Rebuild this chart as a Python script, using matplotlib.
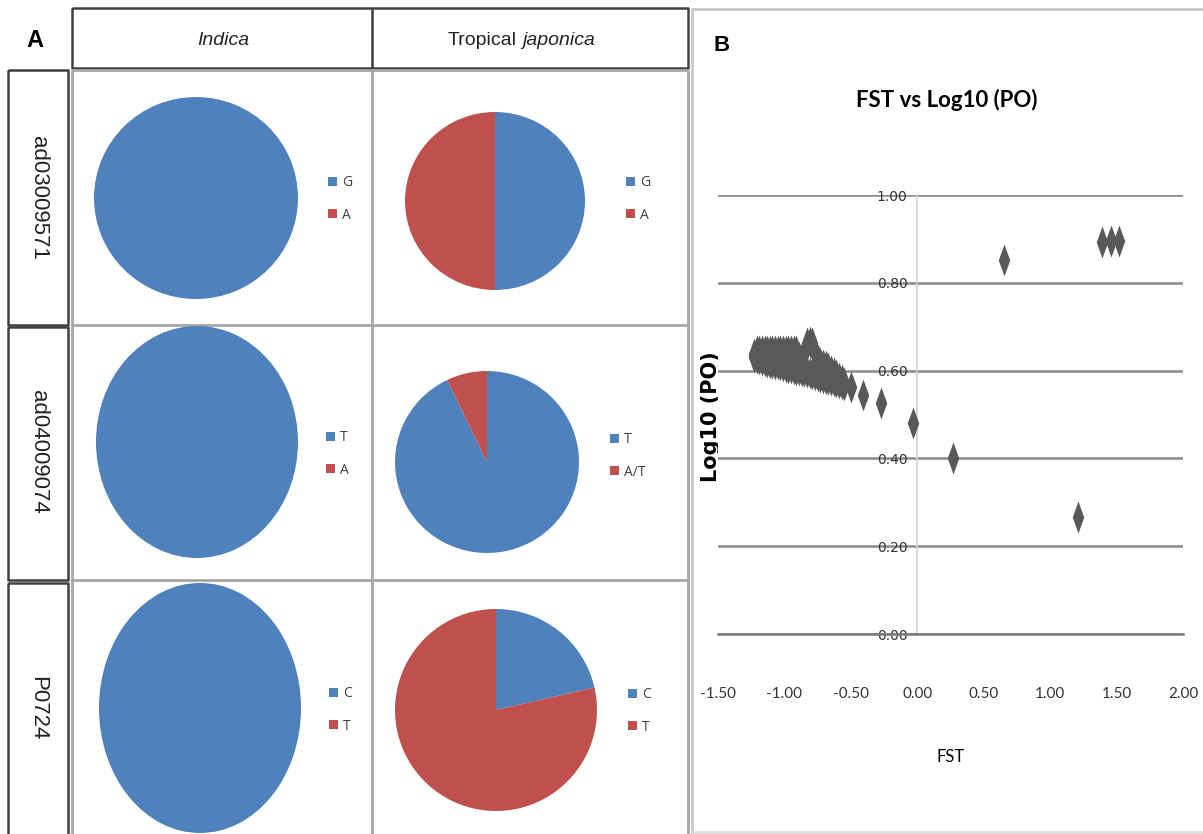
import matplotlib
matplotlib.use('Agg')
import matplotlib.pyplot as plt
from matplotlib.path import Path

# ---- data: panel A (allele frequencies) ----
marker_names = ['ad03009571', 'ad04009074', 'P0724']
indica_labels = [['G', 'A'], ['T', 'A'], ['C', 'T']]
indica_values = [[1, 0], [1, 0], [1, 0]]
tropical_labels = [['G', 'A'], ['T', 'A/T'], ['C', 'T']]
tropical_values = [[1, 1], [13, 1], [3, 11]]

# ---- data: panel B (FST vs Log10(PO)) ----
# dense group of markers, upper and lower edge of the band
cluster_fst = [-1.23, -1.21, -1.19, -1.17, -1.15, -1.13, -1.11, -1.09, -1.07, -1.05,
               -1.03, -1.01, -0.99, -0.97, -0.95, -0.93, -0.91, -0.89, -0.87, -0.85,
               -0.83, -0.81, -0.79, -0.77, -0.75, -0.73, -0.71, -0.69, -0.67, -0.65,
               -0.63, -0.61, -0.59, -0.57, -0.55]
cluster_top = [0.638, 0.645, 0.645, 0.645, 0.645, 0.645, 0.645, 0.645, 0.645, 0.645,
               0.645, 0.645, 0.645, 0.645, 0.645, 0.645, 0.645, 0.630, 0.628, 0.640,
               0.663, 0.665, 0.663, 0.640, 0.625, 0.617, 0.613, 0.610, 0.605, 0.600,
               0.595, 0.590, 0.584, 0.578, 0.572]
cluster_bottom = [0.630, 0.628, 0.626, 0.624, 0.622, 0.620, 0.618, 0.617, 0.615, 0.614,
                  0.612, 0.610, 0.609, 0.607, 0.606, 0.604, 0.602, 0.601, 0.599, 0.598,
                  0.596, 0.594, 0.592, 0.590, 0.588, 0.586, 0.584, 0.582, 0.580, 0.578,
                  0.576, 0.574, 0.572, 0.570, 0.568]
# separate markers
single_fst = [-0.50, -0.41, -0.27, -0.03, 0.27, 0.655, 1.21, 1.39, 1.46, 1.52]
single_log = [0.563, 0.544, 0.526, 0.480, 0.401, 0.852, 0.266, 0.893, 0.895, 0.895]

x_ticks = [-1.5, -1.0, -0.5, 0.0, 0.5, 1.0, 1.5, 2.0]
x_ticklabels = ['-1.50', '-1.00', '-0.50', '0.00', '0.50', '1.00', '1.50', '2.00']
y_ticks = [0.0, 0.2, 0.4, 0.6, 0.8, 1.0]
y_ticklabels = ['0.00', '0.20', '0.40', '0.60', '0.80', '1.00']

W, H = 1203, 834
BLUE = '#4F81BD'
RED = '#C0504D'
DARK = '#3f3f3f'
GRID = '#a6a6a6'
SANS = ['Liberation Sans', 'DejaVu Sans']
NARROW = ['Lato', 'DejaVu Sans']


def box(x0, y0, x1, y1):
    return [x0 / W, 1 - y1 / H, (x1 - x0) / W, (y1 - y0) / H]


fig = plt.figure(figsize=(W / 100, H / 100), dpi=100)
bg = fig.add_axes([0, 0, 1, 1])
bg.set_xlim(0, W)
bg.set_ylim(H, 0)
bg.axis('off')


def line(xs, ys, c, lw):
    bg.plot(xs, ys, color=c, lw=lw, solid_capstyle='butt')


def rect(x0, y0, x1, y1, c, lw):
    line([x0, x1, x1, x0, x0], [y0, y0, y1, y1, y0], c, lw)


# table frame of panel A
rect(72, 8, 688, 68, DARK, 1.8)
line([372, 372], [8, 68], DARK, 1.8)
for y0, y1 in [(70, 325), (327, 580), (583, 836)]:
    rect(8, y0, 68, y1, DARK, 1.8)
for x in [72, 372, 688]:
    line([x, x], [70, 834], GRID, 2)
for y in [70, 325, 580]:
    line([72, 688], [y, y], GRID, 2)
# frame of panel B
line([692, 692], [8, 834], '#c8c8c8', 2)
line([692, 1203], [9, 9], '#c8c8c8', 2)
line([692, 1203], [832, 832], '#dddddd', 2)

bg.text(35, 40, 'A', fontsize=17, fontweight='bold', ha='center', va='center',
        family=SANS)
bg.text(722, 45, 'B', fontsize=16, fontweight='bold', ha='center', va='center',
        family=SANS)

bg.text(223, 40, 'Indica', fontsize=14, style='italic', ha='center', va='center',
        family=SANS, color='#222222')
bg.text(517, 40, 'Tropical', fontsize=14, ha='right', va='center',
        family=SANS, color='#222222')
bg.text(522, 40, 'japonica', fontsize=14, style='italic', ha='left', va='center',
        family=SANS, color='#222222')

for name, yc in zip(marker_names, [198, 452, 708]):
    bg.text(38, yc, name, fontsize=16, rotation=-90, ha='center', va='center',
            family=SANS, color='#222222')

# pie cells: (center x, center y, rx, ry), legend square x, legend mid y
indica_geo = [((196, 198, 102, 101), 333, 199),
              ((197, 442, 101, 116), 331, 454),
              ((200, 708, 101, 125), 334, 710)]
tropical_geo = [((495, 201, 90, 89), 631, 199),
                ((487, 462, 92, 91), 615, 456),
                ((496, 710, 101, 101), 633, 711)]


def draw_pie(values, labels, geo):
    (cx, cy, rx, ry), lx, ly = geo
    ax = fig.add_axes(box(cx - rx, cy - ry, cx + rx, cy + ry))
    wedges, _ = ax.pie(values, colors=[BLUE, RED], startangle=90,
                       counterclock=False, radius=1,
                       wedgeprops=dict(linewidth=0))
    ax.set_xlim(-1, 1)
    ax.set_ylim(-1, 1)
    ax.set_aspect('auto')
    ax.legend(wedges, labels, loc='center left',
              bbox_to_anchor=((lx - 5) / W, 1 - ly / H),
              bbox_transform=fig.transFigure, frameon=False,
              borderpad=0, borderaxespad=0, handlelength=0.65,
              handleheight=0.65, handletextpad=0.35, labelspacing=1.25,
              prop=dict(family=['Open Sans', 'DejaVu Sans'], size=10),
              labelcolor='#404040')


for i in range(3):
    draw_pie(indica_values[i], indica_labels[i], indica_geo[i])
    draw_pie(tropical_values[i], tropical_labels[i], tropical_geo[i])

# ---- panel B scatter ----
ax = fig.add_axes(box(718, 195, 1183, 634))
diamond = Path([(0, 1), (0.36, 0), (0, -1), (-0.36, 0), (0, 1)],
               [Path.MOVETO, Path.LINETO, Path.LINETO, Path.LINETO, Path.CLOSEPOLY])
style = dict(linestyle='none', marker=diamond, markersize=23,
             color='#595959', markeredgewidth=0, zorder=3)
ax.plot(cluster_fst, cluster_top, **style)
ax.plot(cluster_fst, cluster_bottom, **style)
ax.plot(single_fst, single_log, **style)
ax.set_xlim(-1.5, 2.0)
ax.set_ylim(0, 1.0)
ax.set_xticks(x_ticks)
ax.set_xticklabels(x_ticklabels, family=NARROW, fontsize=11)
ax.set_yticks(y_ticks)
ax.set_yticklabels(y_ticklabels, family=NARROW, fontsize=11)
ax.grid(axis='y', color='#8a8a8a', lw=1.8, zorder=1)
for gl in ax.get_ygridlines():
    gl.set_clip_on(False)
ax.set_axisbelow(True)
for s in ['top', 'right']:
    ax.spines[s].set_visible(False)
ax.spines['bottom'].set_color('#7a7a7a')
ax.spines['bottom'].set_linewidth(1.8)
ax.spines['left'].set_position(('data', 0))
ax.spines['left'].set_color('#d0d0d0')
ax.spines['left'].set_linewidth(1.2)
ax.tick_params(axis='y', length=0, pad=7, colors='#333333')
ax.tick_params(axis='x', length=0, pad=38, colors='#333333')

bg.text(947, 100, 'FST vs Log10 (PO)', fontsize=16, fontweight='bold',
        ha='center', va='center', family=NARROW)
bg.text(951, 757, 'FST', fontsize=12, ha='center', va='center', family=NARROW)
bg.text(711, 417, 'Log10 (PO)', fontsize=15, fontweight='bold', rotation=90,
        ha='center', va='center', family=['DejaVu Sans'])

fig.savefig('out.png', dpi=100)
